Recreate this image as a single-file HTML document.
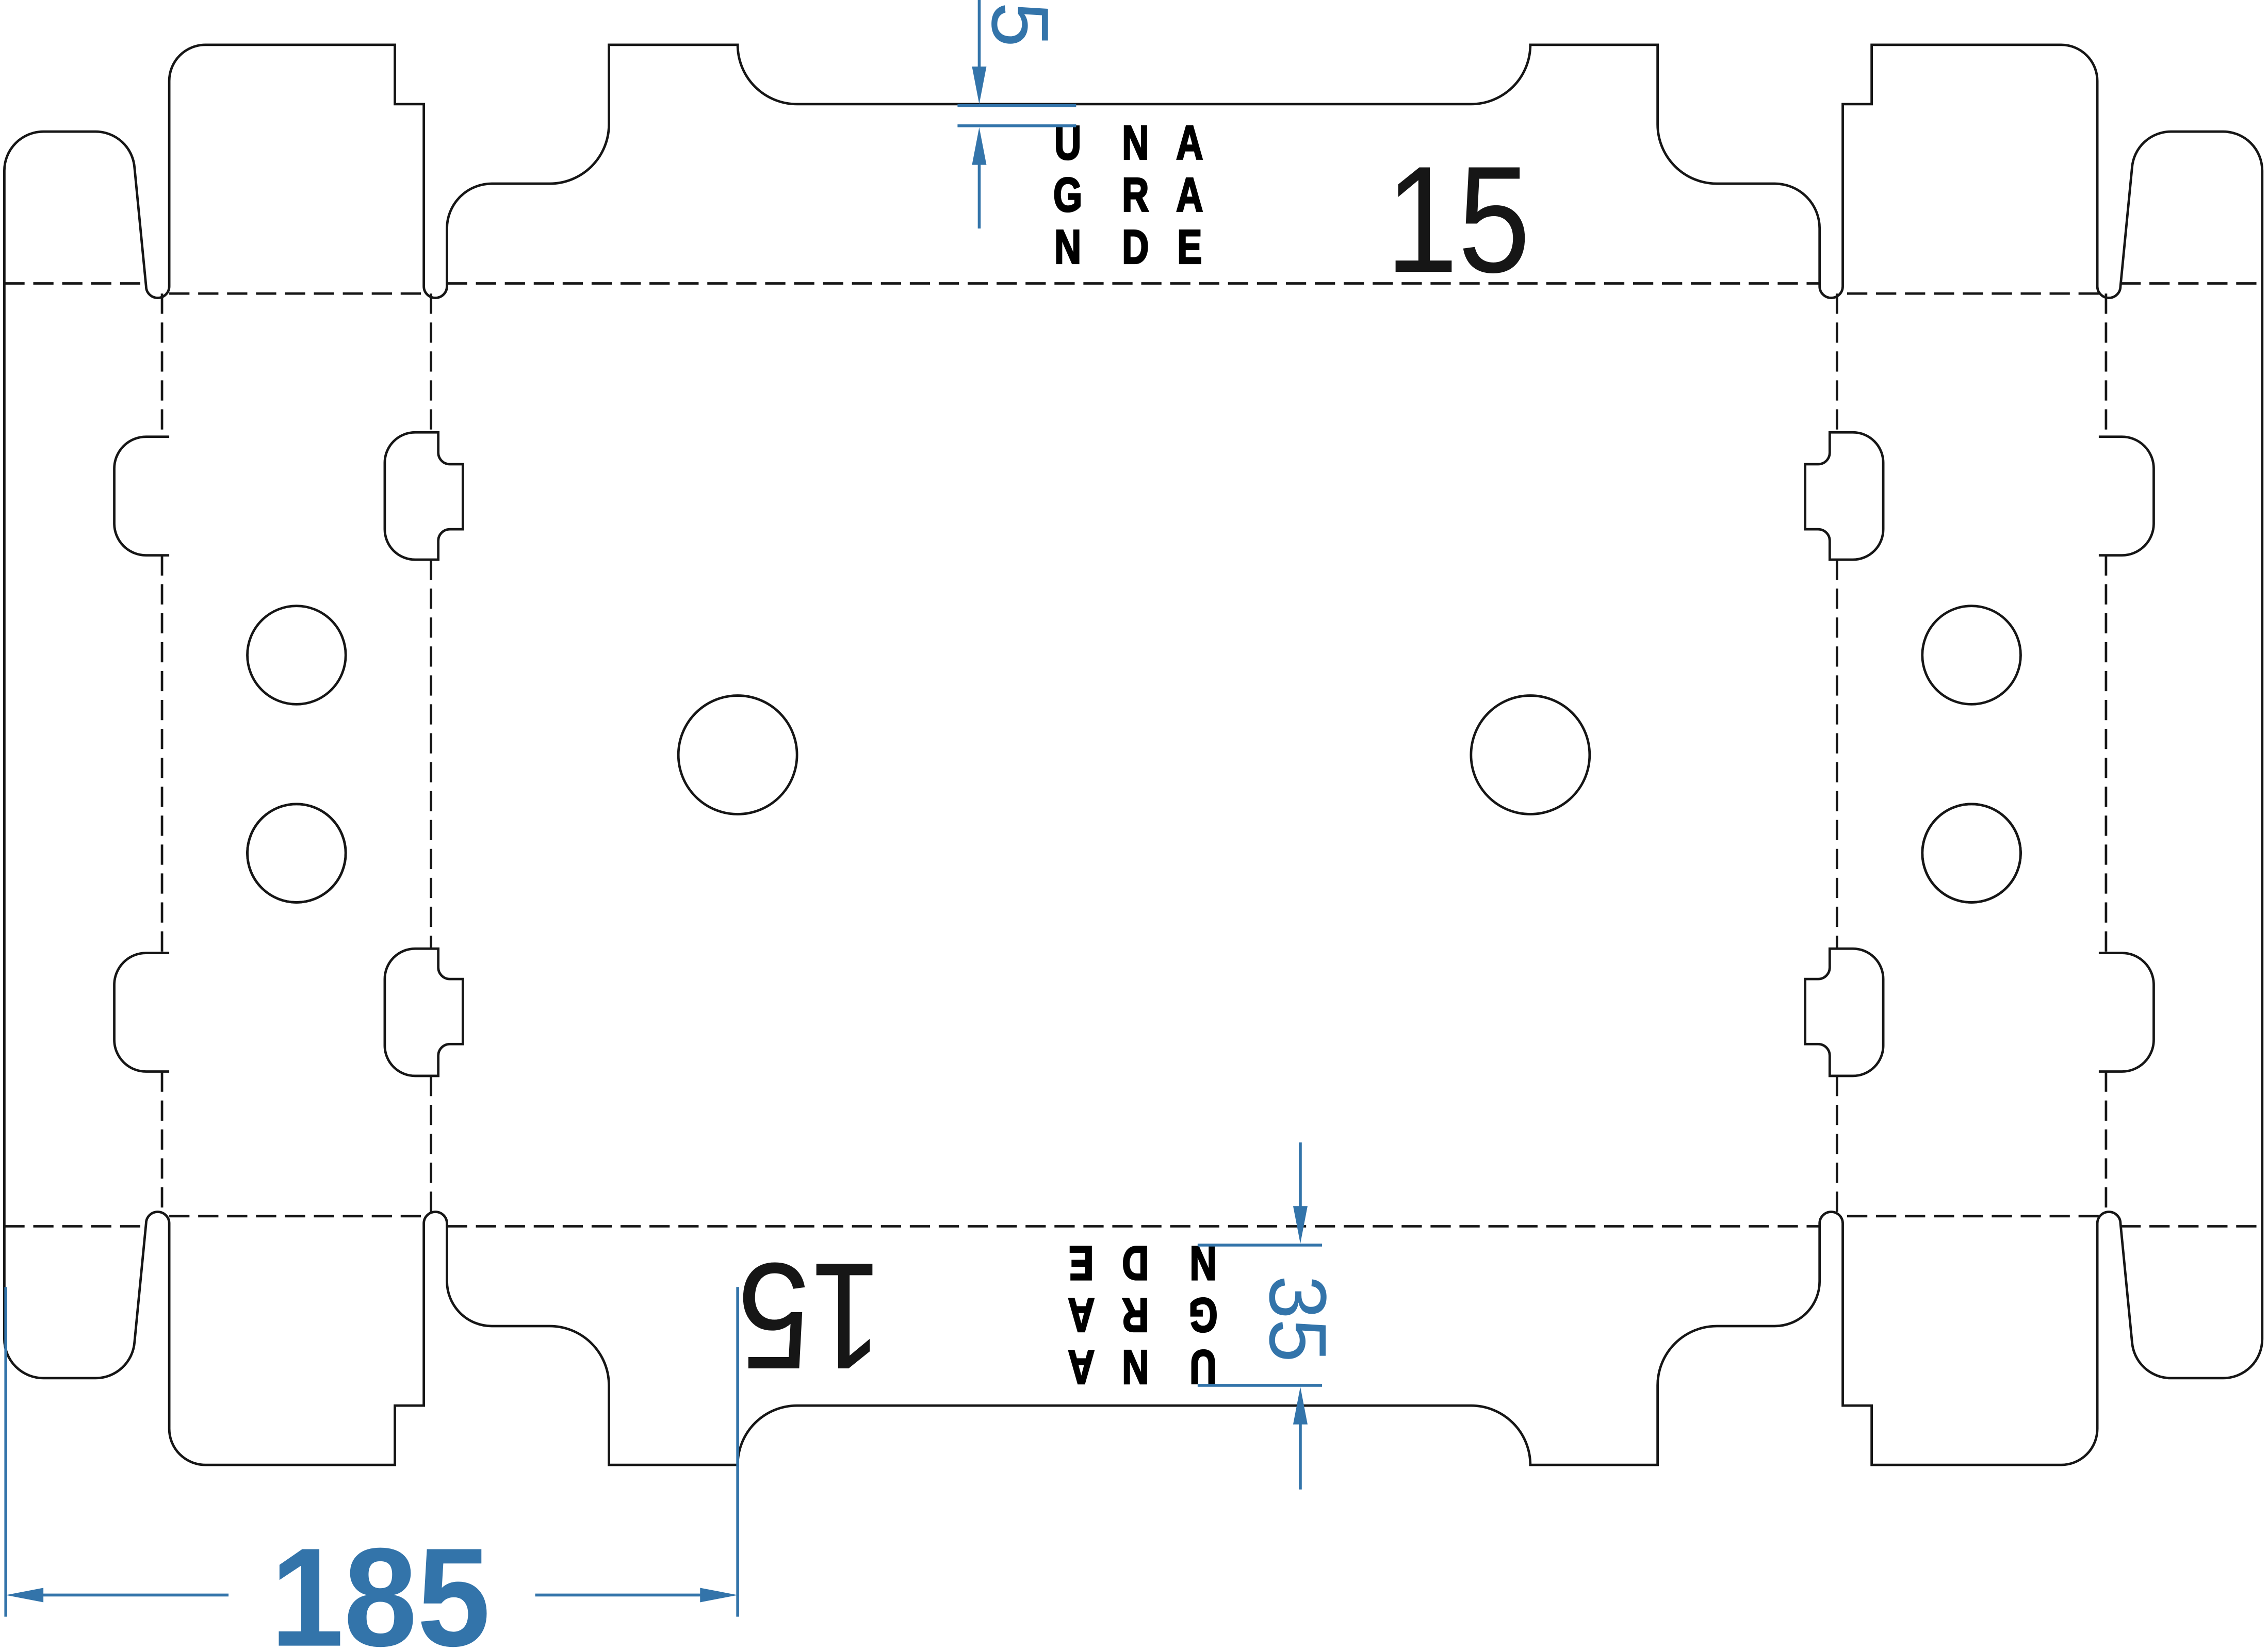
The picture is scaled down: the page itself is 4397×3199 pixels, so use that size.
<!DOCTYPE html>
<html><head><meta charset="utf-8"><style>
html,body{margin:0;padding:0;background:#fff;}
svg{display:block;}
</style></head><body>
<svg width="4397" height="3199" viewBox="0 0 1568 1141" preserveAspectRatio="none" xmlns="http://www.w3.org/2000/svg">
<defs>
<g id="half" fill="none" stroke="#161616" stroke-width="1.7">
  <path d="M117,302 L101,302 A22,22 0 0 0 79,324 L79,362 A22,22 0 0 0 101,384 L117,384"/>
  <path d="M303,299 L287,299 A21,21 0 0 0 266,320 L266,366 A21,21 0 0 0 287,387 L303,387 L303,374 A8,8 0 0 1 311,366 L320,366 L320,321 L311,321 A8,8 0 0 1 303,313 Z"/>
  <circle cx="205" cy="453" r="34"/>
</g>
<g id="side">
  <use href="#half"/>
  <use href="#half" transform="translate(0,1043) scale(1,-1)"/>
  <g fill="none" stroke="#161616" stroke-width="1.7" stroke-dasharray="14,6">
    <path d="M112,203 L112,302 M112,384 L112,659 M112,741 L112,841"/>
    <path d="M298,203 L298,299 M298,387 L298,656 M298,744 L298,841"/>
    <path d="M117,203 L293,203 M117,841 L293,841"/>
  </g>
</g>
</defs>
<rect width="1568" height="1141" fill="#fff"/>
<use href="#side"/>
<use href="#side" transform="translate(1568,0) scale(-1,1)"/>
<g fill="none" stroke="#161616" stroke-width="1.7">
<path d="M3,850 L3,118 A27,27 0 0 1 30,91 L66,91 A27,27 0 0 1 93,116 L101,198 A8,8 0 0 0 117,198 L117,56 A25,25 0 0 1 142,31 L273,31 L273,72 L293,72 L293,198 A8,8 0 0 0 309,198 L309,158 A31,31 0 0 1 340,127 L380,127 A41,41 0 0 0 421,86 L421,31 L510,31 A41,41 0 0 0 551,72 L1017,72 A41,41 0 0 0 1058,31 L1146,31 L1146,86 A41,41 0 0 0 1187,127 L1227,127 A31,31 0 0 1 1258,158 L1258,198 A8,8 0 0 0 1274,198 L1274,72 L1294,72 L1294,31 L1425,31 A25,25 0 0 1 1450,56 L1450,198 A8,8 0 0 0 1466,198 L1474,116 A27,27 0 0 1 1501,91 L1537,91 A27,27 0 0 1 1564,118 L1564,926 A27,27 0 0 1 1537,953 L1501,953 A27,27 0 0 1 1474,928 L1466,846 A8,8 0 0 0 1450,846 L1450,988 A25,25 0 0 1 1425,1013 L1294,1013 L1294,972 L1274,972 L1274,846 A8,8 0 0 0 1258,846 L1258,886 A31,31 0 0 1 1227,917 L1187,917 A41,41 0 0 0 1146,958 L1146,1013 L1058,1013 A41,41 0 0 0 1017,972 L551,972 A41,41 0 0 0 510,1013 L421,1013 L421,958 A41,41 0 0 0 380,917 L340,917 A31,31 0 0 1 309,886 L309,846 A8,8 0 0 0 293,846 L293,972 L273,972 L273,1013 L142,1013 A25,25 0 0 1 117,988 L117,846 A8,8 0 0 0 101,846 L93,928 A27,27 0 0 1 66,953 L30,953 A27,27 0 0 1 3,926 Z"/>
<circle cx="205" cy="590" r="34"/>
<circle cx="1363" cy="590" r="34"/>
<circle cx="510" cy="522" r="41"/>
<circle cx="1058" cy="522" r="41"/>
</g>
<g fill="none" stroke="#161616" stroke-width="1.7" stroke-dasharray="14,6">
<path d="M3,196 L101,196 M309,196 L1258,196 M1466,196 L1564,196"/>
<path d="M3,848 L101,848 M309,848 L1258,848 M1466,848 L1564,848"/>
</g>
<g style="font-family:'Liberation Sans',sans-serif;font-weight:700" font-size="33" fill="#000" stroke="#000" stroke-width="1.2" text-anchor="middle">
  <g transform="translate(785,134) scale(0.78,1)">
    <text x="-60" y="-24">U</text><text x="0" y="-24">N</text><text x="48" y="-24">A</text>
    <text x="-60" y="12">G</text><text x="0" y="12">R</text><text x="48" y="12">A</text>
    <text x="-60" y="48">N</text><text x="0" y="48">D</text><text x="48" y="48">E</text>
  </g>
  <g transform="translate(785,910) rotate(180) scale(0.78,1)">
    <text x="-60" y="-24">U</text><text x="0" y="-24">N</text><text x="48" y="-24">A</text>
    <text x="-60" y="12">G</text><text x="0" y="12">R</text><text x="48" y="12">A</text>
    <text x="-60" y="48">N</text><text x="0" y="48">D</text><text x="48" y="48">E</text>
  </g>
</g>
<g style="font-family:'Liberation Sans',sans-serif" font-size="105" fill="#161616">
  <text x="958" y="188" textLength="100" lengthAdjust="spacingAndGlyphs">15</text>
  <g transform="translate(560,911) rotate(180)"><text x="-50" y="37" textLength="100" lengthAdjust="spacingAndGlyphs">15</text></g>
</g>
<g stroke="#3374aa" stroke-width="2" fill="none">
  <path d="M677,0 L677,48 M662,73 L744,73 M662,87 L744,87 M677,112 L677,158"/>
  <path d="M899,790 L899,836 M828,861 L914,861 M828,958 L914,958 M899,982 L899,1030"/>
  <path d="M4,890 L4,1118 M510,890 L510,1118 M26,1103 L158,1103 M370,1103 L488,1103"/>
</g>
<g fill="#3374aa">
  <path d="M672,46 L682,46 L677,72 Z"/><path d="M672,114 L682,114 L677,88 Z"/>
  <path d="M894,834 L904,834 L899,860 Z"/><path d="M894,985 L904,985 L899,959 Z"/>
  <path d="M30,1098 L30,1108 L4,1103 Z"/><path d="M484,1098 L484,1108 L510,1103 Z"/>
</g>
<g style="font-family:'Liberation Sans',sans-serif" fill="#3374aa">
  <text transform="translate(686,17) rotate(90)" x="0" y="0" font-size="56" text-anchor="middle">5</text>
  <text transform="translate(878,912) rotate(90)" x="0" y="0" font-size="56" text-anchor="middle" textLength="60" lengthAdjust="spacingAndGlyphs">35</text>
  <text x="263" y="1138" font-size="97" font-weight="bold" text-anchor="middle" textLength="152" lengthAdjust="spacingAndGlyphs">185</text>
</g>
</svg>
</body></html>
